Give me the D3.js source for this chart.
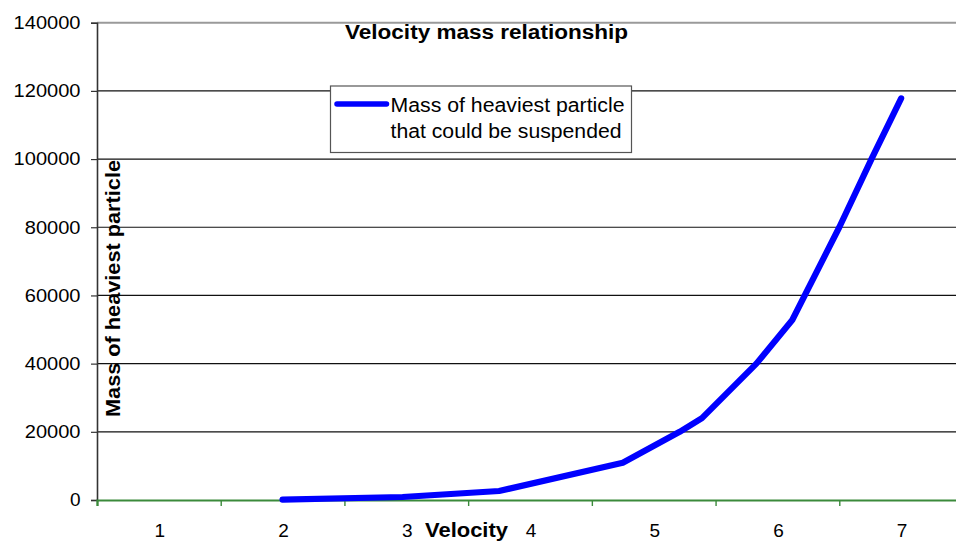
<!DOCTYPE html>
<html>
<head>
<meta charset="utf-8">
<script src="https://cdn.jsdelivr.net/npm/d3@7"></script>
<style>
  html, body { margin: 0; padding: 0; background: #fff; }
  svg { display: block; font-family: "Liberation Sans", Arial, sans-serif; }
</style>
</head>
<body>
<svg id="chart" width="956" height="542"></svg>
<script>
// ---- data ----
const velocity = [2, 2.97, 3.75, 4.75, 5.21, 5.39, 5.83, 6.12, 6.5, 6.76, 7];
const mass     = [100, 880, 2640, 10900, 20000, 24000, 40000, 52800, 80000, 100000, 117800];
const xTickLabels = [1, 2, 3, 4, 5, 6, 7];
const yTickValues = [0, 20000, 40000, 60000, 80000, 100000, 120000, 140000];
const seriesName = ["Mass of heaviest particle", "that could be suspended"];
const chartTitle = "Velocity mass relationship";
const xTitle = "Velocity";
const yTitle = "Mass of heaviest particle";

(function () {
const svg = d3.select("#chart");
const pLeft = 97, pRight = 963, pTop = 22.7, pBottom = 500;

const x = d3.scaleLinear().domain([0.5, 7.5]).range([pLeft, pRight]);
const y = d3.scaleLinear().domain([0, 140000]).range([pBottom, pTop]);

// gridlines
svg.append("g").selectAll("line")
  .data(yTickValues.filter(v => v > 0 && v < 140000))
  .join("line")
  .attr("x1", pLeft).attr("x2", pRight)
  .attr("y1", d => y(d)).attr("y2", d => y(d))
  .attr("stroke", "#111").attr("stroke-width", 1.2);

// top plot border
svg.append("line")
  .attr("x1", pLeft).attr("x2", pRight)
  .attr("y1", y(140000)).attr("y2", y(140000))
  .attr("stroke", "#9a9a9a").attr("stroke-width", 2);

// y axis
const yAxis = d3.axisLeft(y).tickValues(yTickValues).tickSize(6).tickFormat(d3.format("d"));
const gy = svg.append("g").attr("transform", `translate(${pLeft},0)`).call(yAxis);
gy.select(".domain").attr("stroke", "#333").attr("stroke-width", 1.6);
gy.selectAll(".tick line").attr("stroke", "#333").attr("stroke-width", 1.2);
gy.selectAll(".tick text")
  .attr("x", -16.5).attr("dy", null).attr("y", 5.8)
  .attr("font-size", 19).attr("fill", "#000")
  .attr("font-family", "Liberation Sans, Arial, sans-serif")
  .each(function(d) {
    const n = String(d).length;
    if (n > 1) d3.select(this).attr("textLength", 11.15 * n).attr("lengthAdjust", "spacingAndGlyphs");
  });

// x axis (green)
const xAxis = d3.axisBottom(x).tickValues(d3.range(0.5, 7.6, 1)).tickSize(6).tickFormat("");
const gx = svg.append("g").attr("transform", `translate(0,${pBottom})`).call(xAxis);
gx.select(".domain").attr("stroke", "#3b8a3b").attr("stroke-width", 2.2);
gx.selectAll(".tick line").attr("stroke", "#3b8a3b").attr("stroke-width", 1.4);

// x tick labels at category centres
svg.append("g").selectAll("text")
  .data(xTickLabels)
  .join("text")
  .attr("x", d => x(d) + 1)
  .attr("y", 537)
  .attr("text-anchor", "middle")
  .attr("font-size", 19)
  .text(d => d);

// series line
const line = d3.line().x((d, i) => x(velocity[i])).y(d => y(d));
svg.append("path")
  .datum(mass)
  .attr("d", line)
  .attr("fill", "none")
  .attr("stroke", "#0000ff")
  .attr("stroke-width", 6.2)
  .attr("stroke-linejoin", "round")
  .attr("stroke-linecap", "round");

// title
svg.append("text")
  .attr("x", 345).attr("y", 38.5)
  .attr("font-size", 20).attr("font-weight", "bold")
  .attr("textLength", 283).attr("lengthAdjust", "spacingAndGlyphs")
  .text(chartTitle);

// x title
svg.append("text")
  .attr("x", 425).attr("y", 537)
  .attr("font-size", 20).attr("font-weight", "bold")
  .attr("textLength", 83).attr("lengthAdjust", "spacingAndGlyphs")
  .text(xTitle);

// y title
svg.append("text")
  .attr("transform", "translate(120,288.5) rotate(-90)")
  .attr("text-anchor", "middle")
  .attr("font-size", 20).attr("font-weight", "bold")
  .attr("textLength", 257).attr("lengthAdjust", "spacingAndGlyphs")
  .text(yTitle);

// legend
const lg = svg.append("g");
lg.append("rect")
  .attr("x", 330.5).attr("y", 86).attr("width", 301).attr("height", 66.5)
  .attr("fill", "#fff").attr("stroke", "#555").attr("stroke-width", 1.2);
lg.append("line")
  .attr("x1", 337).attr("x2", 386.5).attr("y1", 104).attr("y2", 104)
  .attr("stroke", "#0000ff").attr("stroke-width", 5.5).attr("stroke-linecap", "round");
lg.append("text")
  .attr("x", 390.5).attr("y", 111.7)
  .attr("font-size", 20)
  .attr("textLength", 234).attr("lengthAdjust", "spacingAndGlyphs")
  .text(seriesName[0]);
lg.append("text")
  .attr("x", 390.5).attr("y", 138.3)
  .attr("font-size", 20)
  .attr("textLength", 231).attr("lengthAdjust", "spacingAndGlyphs")
  .text(seriesName[1]);
})();
</script>
</body>
</html>
